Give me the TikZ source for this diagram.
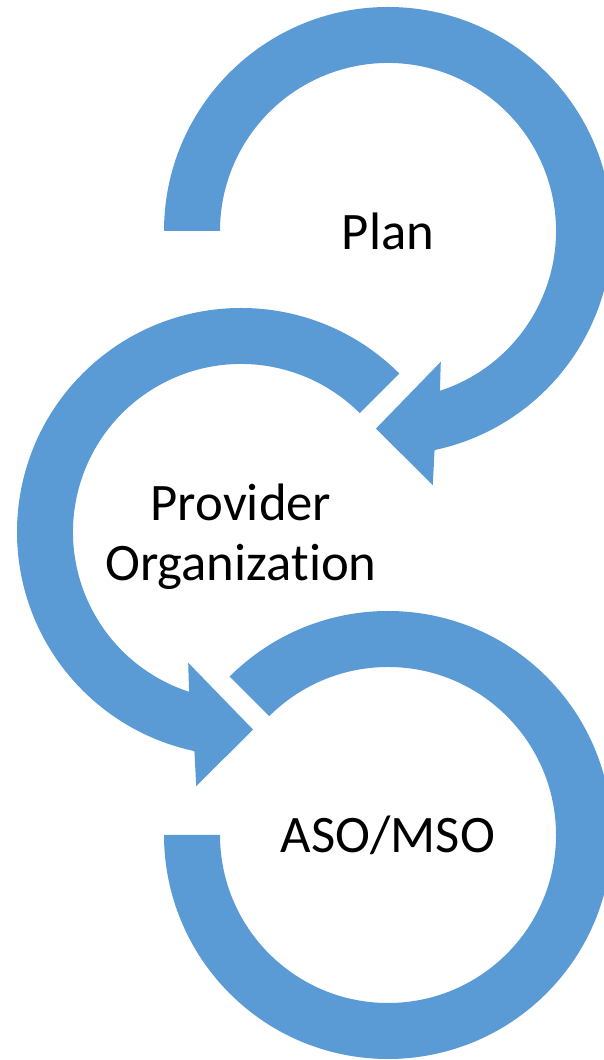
\documentclass[tikz,border=0pt]{standalone}
\usepackage{fontspec}
\setmainfont{Carlito}[Ligatures=NoCommon]
\usetikzlibrary{calc}
\definecolor{cycleblue}{RGB}{91,155,213}
\tikzset{
  band/.style={
    fill = cycleblue,
    draw = none},
  stagetext/.style={
    font      = \fontsize{30}{34}\selectfont,
    align     = center,
    text      = black,
    inner sep = 0pt}
}

\begin{document}
\begin{tikzpicture}[x=0.02cm, y=0.02cm]
\useasboundingbox (0,0) rectangle (604,1060);

\coordinate (cplan) at (388,829);
\coordinate (cprov) at (241,528);
\coordinate (caso)  at (388,225);

% Plan: clockwise, head at the bottom
\fill[band] ($(cplan)+(180:224)$) arc[start angle=180, end angle=-78, radius=224]
  -- ($(cplan)+(-80:258)$) -- ($(cplan)+(-93.5:198)$) -- ($(cplan)+(-68:141)$)
  -- ($(cplan)+(-72:168)$) arc[start angle=-72, end angle=180, radius=168] -- cycle;

% Provider: counter clockwise, head at the bottom
\fill[band] ($(cprov)+(45:224)$) arc[start angle=45, end angle=258, radius=224]
  -- ($(cprov)+(260:258)$) -- ($(cprov)+(273.5:198)$) -- ($(cprov)+(248:141)$)
  -- ($(cprov)+(252:168)$) arc[start angle=252, end angle=45, radius=168] -- cycle;

% ASO/MSO: open ring, no head
\fill[band] ($(caso)+(135:224)$) arc[start angle=135, end angle=-180, radius=224]
  -- ($(caso)+(180:168)$) arc[start angle=-180, end angle=135, radius=168] -- cycle;

\node[stagetext] (plan) at (cplan) {Plan};
\node[stagetext, yshift=-0.09cm] (prov) at (cprov) {Provider\\Organization};
\node[stagetext] (aso)  at (caso)  {ASO/MSO};

\end{tikzpicture}
\end{document}
